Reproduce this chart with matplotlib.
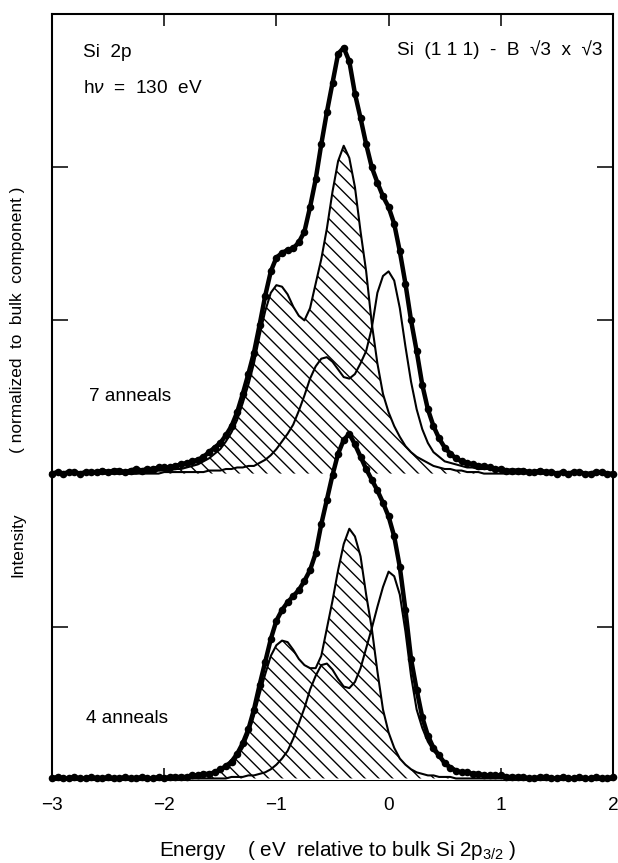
import matplotlib
matplotlib.use("Agg")
import matplotlib.pyplot as plt
import numpy as np

# energy grid (eV relative to bulk Si 2p3/2)
energy = [-3.0, -2.95, -2.9, -2.85, -2.8, -2.75, -2.7, -2.65, -2.6, -2.55, -2.5, -2.45, -2.4, -2.35,
          -2.3, -2.25, -2.2, -2.15, -2.1, -2.05, -2.0, -1.95, -1.9, -1.85, -1.8, -1.75, -1.7,
          -1.65, -1.6, -1.55, -1.5, -1.45, -1.4, -1.35, -1.3, -1.25, -1.2, -1.15, -1.1, -1.05, -1.0,
          -0.95, -0.9, -0.85, -0.8, -0.75, -0.7, -0.65, -0.6, -0.55, -0.5, -0.45, -0.4, -0.35, -0.3,
          -0.25, -0.2, -0.15, -0.1, -0.05, 0.0, 0.05, 0.1, 0.15, 0.2, 0.25, 0.3, 0.35, 0.4, 0.45, 0.5, 0.55, 0.6,
          0.65, 0.7, 0.75, 0.8, 0.85, 0.9, 0.95, 1.0, 1.05, 1.1, 1.15, 1.2, 1.25, 1.3,
          1.35, 1.4, 1.45, 1.5, 1.55, 1.6, 1.65, 1.7, 1.75, 1.8, 1.85, 1.9, 1.95, 2.0]

# 7 anneals (upper spectrum)
total_7 = [0.00, 0.01, 0.00, 0.01, 0.01, 0.00, 0.01, 0.01, 0.01, 0.02, 0.01, 0.02, 0.02, 0.01,
           0.02, 0.03, 0.02, 0.03, 0.03, 0.04, 0.04, 0.04, 0.05, 0.06, 0.07, 0.08, 0.09,
           0.11, 0.14, 0.17, 0.20, 0.25, 0.31, 0.40, 0.52, 0.65, 0.79, 0.97, 1.16, 1.32, 1.41,
           1.44, 1.46, 1.47, 1.51, 1.58, 1.74, 1.92, 2.15, 2.36, 2.55, 2.74, 2.78, 2.69, 2.48,
           2.32, 2.15, 2.00, 1.90, 1.81, 1.74, 1.63, 1.45, 1.24, 1.00, 0.80, 0.58, 0.42, 0.31, 0.23, 0.17, 0.13, 0.10,
           0.08, 0.07, 0.06, 0.05, 0.05, 0.04, 0.03, 0.03, 0.02, 0.02, 0.02, 0.02, 0.01, 0.01,
           0.02, 0.01, 0.01, 0.00, 0.01, 0.00, 0.01, 0.01, 0.00, 0.00, 0.01, 0.01, 0.00, 0.00]
s1_7 = [0.00, 0.00, 0.00, 0.00, 0.00, 0.00, 0.00, 0.00, 0.00, 0.00, 0.00, 0.00, 0.00, 0.00,
        0.00, 0.00, 0.01, 0.01, 0.01, 0.02, 0.02, 0.02, 0.03, 0.03, 0.04, 0.05, 0.06,
        0.08, 0.10, 0.13, 0.16, 0.21, 0.27, 0.35, 0.46, 0.58, 0.72, 0.90, 1.06, 1.18, 1.23,
        1.22, 1.17, 1.09, 1.03, 1.00, 1.08, 1.24, 1.40, 1.60, 1.84, 2.04, 2.14, 2.06, 1.87,
        1.58, 1.32, 0.98, 0.72, 0.52, 0.40, 0.31, 0.24, 0.18, 0.14, 0.11, 0.09, 0.07, 0.05, 0.04, 0.03, 0.03, 0.02,
        0.02, 0.01, 0.01, 0.01, 0.00, 0.00, 0.00, 0.00, 0.00, 0.00, 0.00, 0.00, 0.00, 0.00,
        0.00, 0.00, 0.00, 0.00, 0.00, 0.00, 0.00, 0.00, 0.00, 0.00, 0.00, 0.00, 0.00, 0.00]
bulk_7 = [0.00, 0.00, 0.00, 0.00, 0.00, 0.00, 0.00, 0.00, 0.00, 0.00, 0.00, 0.00, 0.00, 0.00,
          0.00, 0.00, 0.00, 0.00, 0.00, 0.00, 0.01, 0.01, 0.01, 0.01, 0.01, 0.01, 0.01,
          0.01, 0.02, 0.02, 0.02, 0.03, 0.03, 0.04, 0.04, 0.05, 0.05, 0.07, 0.09, 0.12, 0.16,
          0.21, 0.26, 0.32, 0.41, 0.51, 0.62, 0.70, 0.75, 0.76, 0.73, 0.68, 0.63, 0.62, 0.65,
          0.72, 0.80, 0.95, 1.18, 1.29, 1.32, 1.26, 1.08, 0.83, 0.60, 0.42, 0.29, 0.20, 0.14, 0.11, 0.08, 0.07, 0.06,
          0.05, 0.04, 0.04, 0.03, 0.03, 0.03, 0.02, 0.02, 0.02, 0.02, 0.01, 0.01, 0.01, 0.01,
          0.00, 0.00, 0.00, 0.00, 0.00, 0.00, 0.00, 0.00, 0.00, 0.00, 0.00, 0.00, 0.00, 0.00]

# 4 anneals (lower spectrum)
total_4 = [0.00, 0.01, 0.00, 0.00, 0.01, 0.00, 0.00, 0.01, 0.00, 0.00, 0.01, 0.00, 0.00, 0.01,
           0.00, 0.00, 0.01, 0.00, 0.00, 0.01, 0.00, 0.01, 0.01, 0.01, 0.01, 0.02, 0.02,
           0.03, 0.03, 0.04, 0.06, 0.08, 0.11, 0.16, 0.23, 0.32, 0.45, 0.61, 0.76, 0.91, 1.03,
           1.10, 1.15, 1.19, 1.23, 1.29, 1.36, 1.47, 1.66, 1.82, 1.98, 2.12, 2.21, 2.25, 2.18,
           2.10, 2.02, 1.95, 1.88, 1.80, 1.71, 1.58, 1.38, 1.10, 0.78, 0.58, 0.40, 0.28, 0.20, 0.15, 0.10, 0.07, 0.05,
           0.04, 0.04, 0.03, 0.03, 0.02, 0.02, 0.02, 0.02, 0.01, 0.01, 0.01, 0.01, 0.00, 0.00,
           0.01, 0.01, 0.00, 0.00, 0.01, 0.00, 0.00, 0.01, 0.00, 0.00, 0.01, 0.00, 0.00, 0.01]
s1_4 = [0.00, 0.00, 0.00, 0.00, 0.00, 0.00, 0.00, 0.00, 0.00, 0.00, 0.00, 0.00, 0.00, 0.00,
        0.00, 0.00, 0.00, 0.00, 0.00, 0.00, 0.00, 0.00, 0.01, 0.01, 0.01, 0.01, 0.02,
        0.02, 0.03, 0.04, 0.05, 0.07, 0.09, 0.14, 0.20, 0.29, 0.41, 0.55, 0.68, 0.80, 0.87,
        0.90, 0.89, 0.84, 0.78, 0.74, 0.72, 0.72, 0.80, 0.98, 1.16, 1.36, 1.53, 1.63, 1.58,
        1.45, 1.20, 0.98, 0.70, 0.45, 0.30, 0.20, 0.13, 0.09, 0.06, 0.04, 0.03, 0.02, 0.02, 0.01, 0.01, 0.01, 0.00,
        0.00, 0.00, 0.00, 0.00, 0.00, 0.00, 0.00, 0.00, 0.00, 0.00, 0.00, 0.00, 0.00, 0.00,
        0.00, 0.00, 0.00, 0.00, 0.00, 0.00, 0.00, 0.00, 0.00, 0.00, 0.00, 0.00, 0.00, 0.00]
bulk_4 = [0.00, 0.00, 0.00, 0.00, 0.00, 0.00, 0.00, 0.00, 0.00, 0.00, 0.00, 0.00, 0.00, 0.00,
          0.00, 0.00, 0.00, 0.00, 0.00, 0.00, 0.00, 0.00, 0.00, 0.00, 0.00, 0.00, 0.00,
          0.00, 0.00, 0.00, 0.00, 0.00, 0.01, 0.01, 0.01, 0.02, 0.02, 0.03, 0.04, 0.06, 0.09,
          0.13, 0.18, 0.26, 0.36, 0.46, 0.58, 0.67, 0.74, 0.75, 0.71, 0.65, 0.60, 0.59, 0.63,
          0.72, 0.85, 0.98, 1.12, 1.25, 1.35, 1.32, 1.20, 0.96, 0.67, 0.45, 0.33, 0.24, 0.18, 0.14, 0.11, 0.08, 0.06,
          0.04, 0.03, 0.03, 0.02, 0.02, 0.01, 0.01, 0.01, 0.00, 0.00, 0.00, 0.00, 0.00, 0.00,
          0.00, 0.00, 0.00, 0.00, 0.00, 0.00, 0.00, 0.00, 0.00, 0.00, 0.00, 0.00, 0.00, 0.00]

x_ticks = [-3, -2, -1, 0, 1, 2]
x_ticklabels = ["\u22123", "\u22122", "\u22121", "0", "1", "2"]

plt.rcParams["font.family"] = ["Liberation Sans", "DejaVu Sans"]
plt.rcParams["mathtext.fontset"] = "custom"
plt.rcParams["mathtext.rm"] = "Liberation Sans"
plt.rcParams["mathtext.it"] = "Liberation Sans:italic"
plt.rcParams["hatch.linewidth"] = 0.8

DPI = 124
fig = plt.figure(figsize=(618 / DPI, 863 / DPI), dpi=DPI)
ax = fig.add_axes([52 / 618, 1 - 780 / 863, 561 / 618, 766 / 863])

x = np.array(energy)


def draw_spectrum(ax, total, s1, bulk, offset, z0, mask_below=False):
    total = np.array(total) + offset
    s1 = np.array(s1) + offset
    bulk = np.array(bulk) + offset
    if mask_below:
        # the lower spectrum is pasted over the upper one
        ax.fill_between(x, 0, total, facecolor="white", edgecolor="none", zorder=z0)
    ax.fill_between(x, offset, s1, facecolor="none", edgecolor="black",
                    hatch="\\\\\\", linewidth=0, zorder=z0 + 1)
    ax.plot(x, s1, color="black", lw=1.2, zorder=z0 + 2)
    ax.plot(x, bulk, color="black", lw=1.2, zorder=z0 + 2)
    ax.plot(x, total, color="black", lw=2.6, marker="o", markersize=4.4,
            markeredgewidth=0, zorder=z0 + 3, clip_on=False)


draw_spectrum(ax, total_7, s1_7, bulk_7, 2.0, 1)
draw_spectrum(ax, total_4, s1_4, bulk_4, 0.01, 10, mask_below=True)

ax.set_xlim(-3, 2)
ax.set_ylim(0, 5)
ax.set_xticks(x_ticks)
ax.set_xticklabels(x_ticklabels, fontsize=11)
ax.set_yticks([1, 3, 4])
ax.set_yticklabels([])
ax.tick_params(axis="x", direction="in", length=7, width=0.9, top=True, pad=10)
ax.tick_params(axis="y", direction="in", length=9.5, width=0.9, right=True)
for sp in ax.spines.values():
    sp.set_linewidth(1.2)

ax.text(0.055, 0.950, "Si  2p", transform=ax.transAxes, fontsize=11, va="center", ha="left")
ax.text(0.055, 0.903, r"h$\nu$  =  130  eV", transform=ax.transAxes, fontsize=11,
        va="center", ha="left")
ax.text(0.982, 0.953, "Si  (1 1 1)  -  B  \u221a3  x  \u221a3", transform=ax.transAxes,
        fontsize=11, va="center", ha="right")
ax.text(0.066, 0.501, "7 anneals", transform=ax.transAxes, fontsize=11, va="center", ha="left")
ax.text(0.060, 0.080, "4 anneals", transform=ax.transAxes, fontsize=11, va="center", ha="left")

fig.text(338 / 618, 1 - 850 / 863, r"Energy    ( eV  relative to bulk Si 2p$_{3/2}$ )",
         fontsize=12, ha="center", va="center")
fig.text(18 / 618, 1 - 545 / 863, "Intensity", rotation=90, fontsize=10, ha="center", va="center")
fig.text(18 / 618, 1 - 320 / 863, "( normalized  to  bulk  component )", rotation=90,
         fontsize=10, ha="center", va="center")

fig.savefig("out.png", dpi=DPI)
